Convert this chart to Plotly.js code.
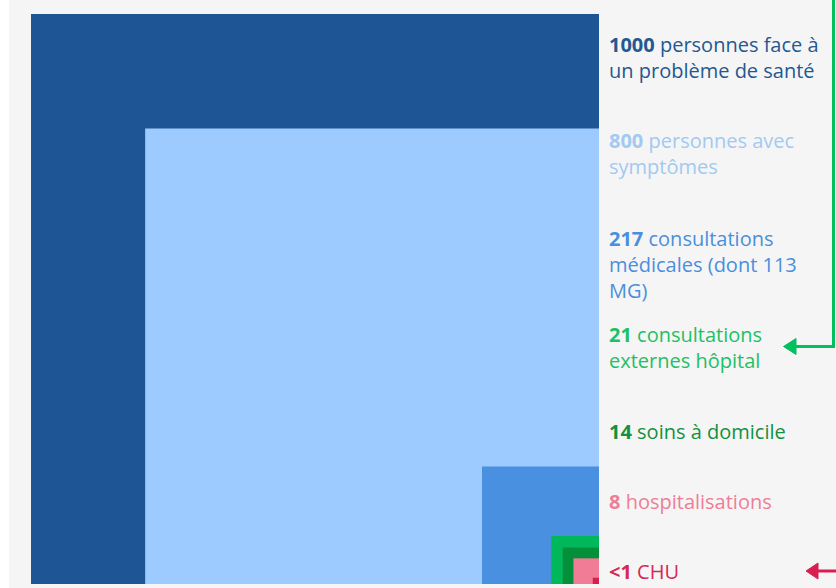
<!DOCTYPE html>
<html>
<head>
<meta charset="utf-8">
<script src="https://cdn.plot.ly/plotly-3.0.1.min.js"></script>
<style>html,body{margin:0;padding:0;background:#f5f5f5;}#chart{width:836px;height:588px;}</style>
</head>
<body>
<div id="chart"></div>
<script>
// ---- data ----
const counts = ['1000', '800', '217', '21', '14', '8', '<1'];
const descriptions = [
  'personnes face à<br>un problème de santé',
  'personnes avec<br>symptômes',
  'consultations<br>médicales (dont 113<br>MG)',
  'consultations<br>externes hôpital',
  'soins à domicile',
  'hospitalisations',
  'CHU'
];
// displayed side of each nested square (outer square = 1000)
const squareSide = [1000, 799, 206, 84, 64, 45, 11];

// ---- styles ----
const squareColors = ['#1e5594', '#9ecbff', '#4a90e0', '#00b85a', '#048f3b', '#f07c96', '#d81e4f'];
const textColors   = ['#245891', '#a2c9f2', '#4a8fdc', '#1ec064', '#12913f', '#ef7d96', '#d42855'];
const labelCenters = [57.5, 153.5, 264.5, 347.5, 431, 501, 571]; // px

const W = 836, H = 588, L = 31, R = 237, T = 14, B = 4;
const pw = W - L - R, ph = H - T - B;
const px = x => (x - L) / pw;
const py = y => (H - B - y) / ph;

const shapes = [];
// white strip on the left
shapes.push({type: 'rect', xref: 'paper', yref: 'paper', x0: px(-1), x1: px(9), y0: py(H + 1), y1: py(-1),
  fillcolor: '#ffffff', line: {width: 0}, layer: 'below'});
// nested squares anchored bottom-right
squareSide.forEach((s, i) => {
  shapes.push({type: 'rect', xref: 'x', yref: 'y', x0: -s, x1: 0, y0: 0, y1: s,
    fillcolor: squareColors[i], line: {width: 0}});
});
// green arrow
const green = '#00c060', red = '#d81e4f';
shapes.push({type: 'path', xref: 'paper', yref: 'paper',
  path: `M ${px(833.5)} ${py(-3)} L ${px(833.5)} ${py(346.5)} L ${px(794)} ${py(346.5)}`,
  line: {color: green, width: 3}});
shapes.push({type: 'path', xref: 'paper', yref: 'paper',
  path: `M ${px(783.5)} ${py(346.5)} L ${px(796)} ${py(338.5)} L ${px(796)} ${py(354.5)} Z`,
  fillcolor: green, line: {color: green, width: 1}});
// red arrow
shapes.push({type: 'path', xref: 'paper', yref: 'paper',
  path: `M ${px(816)} ${py(571)} L ${px(840)} ${py(571)}`,
  line: {color: red, width: 3}});
shapes.push({type: 'path', xref: 'paper', yref: 'paper',
  path: `M ${px(806)} ${py(571)} L ${px(818)} ${py(563)} L ${px(818)} ${py(579)} Z`,
  fillcolor: red, line: {color: red, width: 1}});

const annotations = counts.map((c, i) => ({
  xref: 'paper', yref: 'paper', x: px(607), y: py(labelCenters[i]),
  xanchor: 'left', yanchor: 'middle', align: 'left', showarrow: false,
  text: '<b>' + c.replace('<', '&lt;') + '</b> ' + descriptions[i],
  font: {family: 'Open Sans', size: 20, color: textColors[i]}
}));

const layout = {
  width: W, height: H,
  margin: {l: L, r: R, t: T, b: B, pad: 0},
  paper_bgcolor: '#f5f5f5', plot_bgcolor: '#f5f5f5',
  xaxis: {range: [-1000, 0], visible: false, fixedrange: true},
  yaxis: {range: [0, 1000], visible: false, fixedrange: true},
  shapes: shapes, annotations: annotations, showlegend: false
};

Plotly.newPlot('chart', [{x: [], y: [], type: 'scatter', hoverinfo: 'skip'}], layout, {displayModeBar: false, staticPlot: true});
</script>
</body>
</html>
